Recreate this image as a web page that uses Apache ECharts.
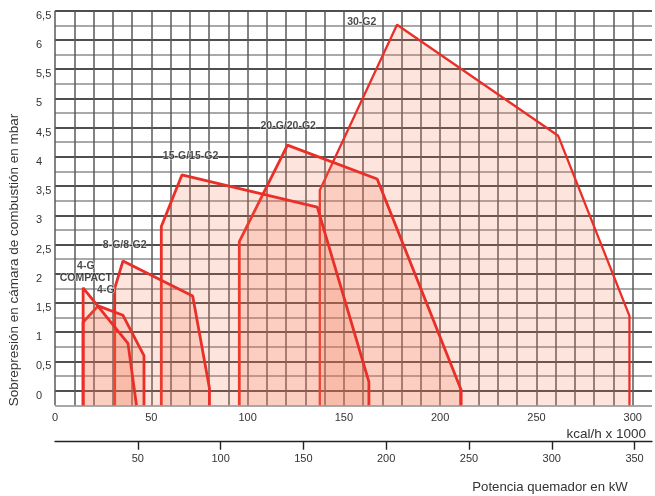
<!DOCTYPE html>
<html>
<head>
<meta charset="utf-8">
<script src="https://cdn.jsdelivr.net/npm/echarts@6/dist/echarts.min.js"></script>
<style>
html,body{margin:0;padding:0;background:#fff;}
#chart{width:655px;height:496px;}
</style>
</head>
<body>
<div id="chart"></div>
<script>
// ---- data (kcal/h x 1000 , mbar) ----
var X_MIN = 0, X_MAX = 310, X_STEP = 10;
var Y_MIN = -0.25, Y_MAX = 6.5, Y_STEP = 0.25;
var KCAL_PER_KW = 0.859845;           // 1 kW = 0.859845 x 1000 kcal/h
var xTickLabels = [0, 50, 100, 150, 200, 250, 300];
var kwTickLabels = [50, 100, 150, 200, 250, 300, 350];

var field4GCompact = [[14.6,-0.25],[14.6,1.76],[37.9,0.81],[42.3,-0.25]];
var field4G        = [[14.6,-0.25],[14.6,1.17],[22.4,1.45],[35.3,1.29],[46.2,0.60],[46.2,-0.25]];
var field8G        = [[31.0,-0.25],[31.0,1.75],[35.3,2.22],[71.5,1.62],[80.2,0.04],[80.2,-0.25]];
var field15G       = [[55.2,-0.25],[55.2,2.81],[65.9,3.69],[136.2,3.14],[163.0,0.15],[163.0,-0.25]];
var field20G       = [[95.7,-0.25],[95.7,2.55],[120.7,4.20],[167.3,3.62],[210.9,0.01],[210.9,-0.25]];
var field30G2      = [[137.5,-0.25],[137.5,3.43],[177.6,6.26],[261.3,4.36],[298.3,1.28],[298.3,-0.25]];

var labelNames  = ['30-G2', '20-G/20-G2', '15-G/15-G2', '8-G/8-G2', '4-G', 'COMPACT', '4-G'];
var labelPoints = [[159.3,6.31],[121.1,4.53],[70.4,4.01],[36.2,2.49],[16.0,2.13],[16.0,1.93],[26.4,1.72]];

// ---- chart ----
var FONT = '"Liberation Sans", Arial, Helvetica, sans-serif';
var fields = [field30G2, field20G, field15G, field8G, field4G, field4GCompact];
var chart = echarts.init(document.getElementById('chart'), null, {renderer: 'canvas'});

var series = fields.map(function (pts, i) {
  return {
    type: 'line',
    data: pts,
    showSymbol: false,
    symbol: 'none',
    smooth: false,
    clip: true,
    silent: true,
    z: 2 + i,
    lineStyle: {color: '#ea2e28', width: i === 0 ? 2.3 : 2.8},
    areaStyle: {color: 'rgba(242,112,72,0.27)', origin: 'start'}
  };
});
series.push({
  type: 'scatter',
  symbol: 'circle',
  symbolSize: 1,
  itemStyle: {color: 'rgba(0,0,0,0)'},
  z: 20,
  silent: true,
  data: labelPoints.map(function (p, i) { return {name: labelNames[i], value: p}; }),
  label: {
    show: true, position: 'inside', formatter: '{b}',
    fontFamily: FONT, fontSize: 10.5, fontWeight: 'bold', color: '#1a1a1a',
    textBorderColor: 'rgba(255,255,255,0.85)', textBorderWidth: 1.2
  }
});

chart.setOption({
  animation: false,
  backgroundColor: '#fff',
  grid: {left: 55, right: 0, top: 10.7, bottom: 90.7, containLabel: false},
  xAxis: [{
    type: 'value', min: X_MIN, max: X_MAX, interval: X_STEP,
    axisLine: {show: false}, axisTick: {show: false},
    axisLabel: {
      margin: 7, fontSize: 11, fontFamily: FONT, color: '#333',
      formatter: function (v) { return xTickLabels.indexOf(Math.round(v)) >= 0 && Math.abs(v - Math.round(v)) < 1e-6 ? String(Math.round(v)) : ''; }
    },
    splitLine: {show: true, showMaxLine: false, lineStyle: {color: '#5a5a5a', width: 1.5}}
  }, {
    type: 'value', position: 'bottom', offset: 36.4,
    min: 0, max: X_MAX / KCAL_PER_KW, interval: 50,
    axisLine: {show: true, onZero: false, lineStyle: {color: '#222', width: 1.4}},
    axisTick: {show: true, inside: false, length: 8, customValues: kwTickLabels, lineStyle: {color: '#222', width: 1.4}},
    axisLabel: {margin: 12, fontSize: 11, fontFamily: FONT, color: '#333', customValues: kwTickLabels},
    splitLine: {show: false}
  }],
  yAxis: {
    type: 'value', min: Y_MIN, max: Y_MAX, interval: Y_STEP,
    axisLine: {show: false}, axisTick: {show: false},
    axisLabel: {
      align: 'left', verticalAlign: 'top', lineHeight: 10, margin: 19, fontSize: 11, fontFamily: FONT, color: '#333',
      formatter: function (v) {
        var d = v * 2;
        if (v < -1e-6 || Math.abs(d - Math.round(d)) > 1e-6) return '';
        return String(Math.round(d) / 2).replace('.', ',');
      }
    },
    splitLine: {show: true, lineStyle: {color: ['#8c8c8c', '#151515'], width: 1.5}}
  },
  graphic: [
    {type: 'text', x: 14, y: 260, rotation: Math.PI / 2, silent: true,
     style: {text: 'Sobrepresión en cámara de combustión en mbar', font: '13.5px ' + FONT, fill: '#333', align: 'center', verticalAlign: 'middle'}},
    {type: 'text', x: 646, y: 434, silent: true,
     style: {text: 'kcal/h x 1000', font: '13.5px ' + FONT, fill: '#333', align: 'right', verticalAlign: 'middle'}},
    {type: 'text', x: 550, y: 487, silent: true,
     style: {text: 'Potencia quemador en kW', font: '13.2px ' + FONT, fill: '#333', align: 'center', verticalAlign: 'middle'}}
  ],
  series: series
});
</script>
</body>
</html>
